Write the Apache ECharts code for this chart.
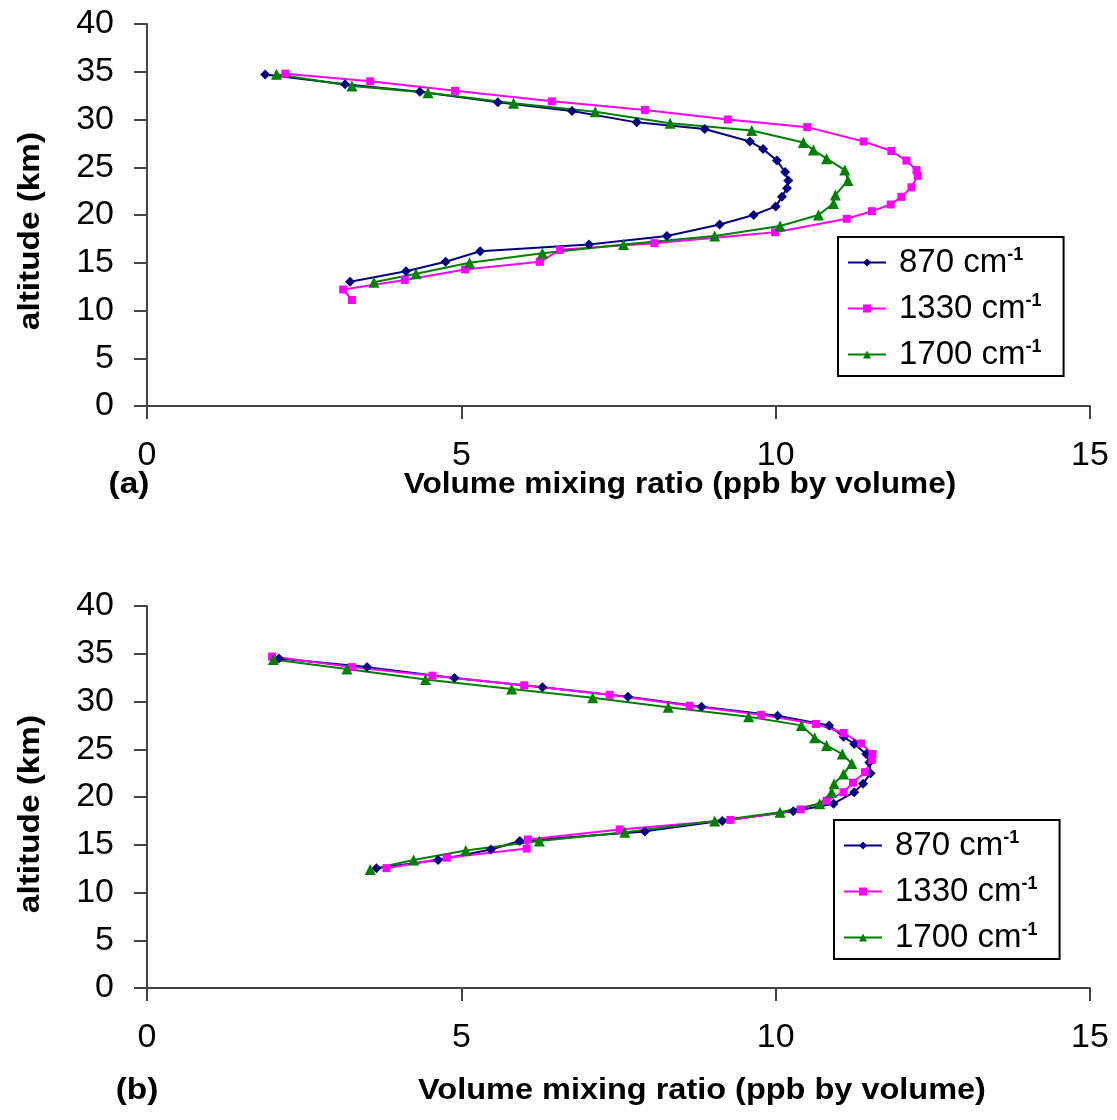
<!DOCTYPE html>
<html>
<head>
<meta charset="utf-8">
<script src="https://cdn.jsdelivr.net/npm/echarts@6/dist/echarts.min.js"></script>
<style>
html, body { margin: 0; padding: 0; background: #fff; }
#chart { width: 1117px; height: 1120px; }
</style>
</head>
<body>
<div id="chart"></div>
<script>
// series names (wavenumber, cm-1)
const seriesNames = ['870', '1330', '1700']
const colors = ['#000080', '#FF00FF', '#008000']
const symbols = ['diamond', 'rect', 'triangle']

// panel (a): [vmr ppb, altitude km]
const a870 = [[1.88, 34.7], [3.15, 33.7], [4.34, 32.9], [5.58, 31.8], [6.76, 30.9], [7.79, 29.7], [8.87, 29.0], [9.59, 27.7], [9.80, 26.9], [10.02, 25.7], [10.15, 24.5], [10.20, 23.6], [10.18, 22.8], [10.10, 21.9], [10.0, 20.9], [9.65, 20.0], [9.11, 19.0], [8.27, 17.8], [7.03, 16.9], [5.30, 16.2], [4.75, 15.1], [4.12, 14.1], [3.23, 13.0]]
const a1330 = [[2.20, 34.8], [3.55, 34.0], [4.90, 33.0], [6.44, 31.9], [7.92, 31.0], [9.24, 30.0], [10.50, 29.2], [11.40, 27.7], [11.84, 26.7], [12.08, 25.7], [12.24, 24.7], [12.26, 24.1], [12.16, 22.9], [12.0, 21.9], [11.83, 21.1], [11.53, 20.4], [11.13, 19.6], [9.99, 18.2], [8.07, 17.05], [6.57, 16.35], [6.25, 15.1], [5.06, 14.3], [4.10, 13.2], [3.12, 12.2], [3.26, 11.1]]
const a1700 = [[2.06, 34.75], [3.26, 33.5], [4.47, 32.8], [5.83, 31.7], [7.13, 30.8], [8.32, 29.6], [9.62, 28.85], [10.44, 27.6], [10.60, 26.8], [10.81, 25.9], [11.10, 24.7], [11.15, 23.6], [10.95, 22.1], [10.92, 21.2], [10.68, 20.0], [10.07, 18.85], [9.03, 17.8], [7.58, 16.9], [6.29, 16.0], [5.13, 15.0], [4.28, 13.85], [3.61, 12.95]]

// panel (b)
const b870 = [[2.10, 34.5], [3.50, 33.6], [4.89, 32.45], [6.29, 31.5], [7.65, 30.5], [8.82, 29.45], [10.03, 28.5], [10.85, 27.5], [11.08, 26.3], [11.25, 25.55], [11.44, 24.5], [11.49, 23.6], [11.51, 22.5], [11.39, 21.4], [11.25, 20.5], [10.92, 19.3], [10.28, 18.5], [9.15, 17.5], [7.92, 16.4], [5.93, 15.4], [5.47, 14.5], [4.63, 13.4], [3.65, 12.55]]
const b1330 = [[1.99, 34.7], [3.26, 33.6], [4.54, 32.7], [6.0, 31.7], [7.36, 30.7], [8.63, 29.55], [9.77, 28.6], [10.64, 27.65], [11.08, 26.7], [11.36, 25.6], [11.54, 24.5], [11.53, 23.9], [11.42, 22.6], [11.23, 21.5], [11.08, 20.5], [10.81, 19.6], [10.40, 18.7], [9.28, 17.6], [7.52, 16.6], [6.06, 15.55], [6.04, 14.6], [4.77, 13.65], [3.81, 12.55]]
const b1700 = [[2.01, 34.4], [3.18, 33.4], [4.43, 32.3], [5.80, 31.3], [7.09, 30.4], [8.29, 29.4], [9.57, 28.4], [10.41, 27.5], [10.62, 26.2], [10.81, 25.4], [11.06, 24.5], [11.21, 23.5], [11.08, 22.4], [10.93, 21.4], [10.89, 20.5], [10.70, 19.3], [10.07, 18.4], [9.03, 17.5], [7.60, 16.3], [6.24, 15.4], [5.07, 14.4], [4.24, 13.4], [3.55, 12.4]]

const xTicks = { min: 0, max: 15, interval: 5 }
const yTicks = { min: 0, max: 40, interval: 5 }

const chartDom = document.getElementById('chart')
const chartInstance = echarts.init(chartDom)

const fontFam = '"Liberation Sans", Arial, sans-serif'
const axisColor = '#444'

// 坐标轴公共样式
function makeXAxis(gridIndex) {
	return {
		type: 'value',
		gridIndex: gridIndex,
		min: xTicks.min,
		max: xTicks.max,
		interval: xTicks.interval,
		axisLine: { show: true, lineStyle: { color: axisColor, width: 2 } },
		axisTick: { show: true, inside: false, length: 13, lineStyle: { color: axisColor, width: 2 } },
		splitLine: { show: false },
		axisLabel: { color: '#000', fontSize: 34, fontFamily: fontFam, margin: 33 },
	}
}
function makeYAxis(gridIndex) {
	return {
		type: 'value',
		gridIndex: gridIndex,
		min: yTicks.min,
		max: yTicks.max,
		interval: yTicks.interval,
		axisLine: { show: true, lineStyle: { color: axisColor, width: 2 } },
		axisTick: { show: true, inside: false, length: 13, lineStyle: { color: axisColor, width: 2 } },
		splitLine: { show: false },
		axisLabel: { color: '#000', fontSize: 34, fontFamily: fontFam, margin: 33 },
	}
}

function makeSeries(data, idx, gridIndex) {
	return {
		type: 'line',
		name: seriesNames[idx],
		xAxisIndex: gridIndex,
		yAxisIndex: gridIndex,
		data: data,
		symbol: symbols[idx],
		symbolSize: idx === 2 ? 11 : (idx === 0 ? 10 : 8),
		lineStyle: { color: colors[idx], width: 2 },
		itemStyle: { color: colors[idx] },
		animation: false,
	}
}

function makeLegend(left, top) {
	return {
		orient: 'vertical',
		left: left,
		top: top,
		itemWidth: 38,
		itemHeight: 10,
		itemGap: 13,
		padding: [9, 22, 5, 9],
		borderColor: '#000',
		borderWidth: 2,
		data: seriesNames,
		formatter: (name) => '{n|' + name + ' cm}{s|-1}',
		textStyle: {
			color: '#000',
			fontFamily: fontFam,
			rich: {
				n: { fontSize: 33, fontFamily: fontFam, color: '#000', padding: [0, 0, 0, 8] },
				s: { fontSize: 18, fontFamily: fontFam, color: '#000', verticalAlign: 'top', fontWeight: 'bold' },
			},
		},
	}
}

function axisName(text, x, y, rotate, scaleX) {
	return {
		type: 'text',
		x: x,
		y: y,
		rotation: rotate ? Math.PI / 2 : 0,
		scaleX: scaleX,
		style: { text: text, font: 'bold 29px ' + fontFam, fill: '#000', align: 'center', verticalAlign: 'middle' },
	}
}

const option = {
	backgroundColor: '#fff',
	animation: false,
	grid: [
		{ left: 147, top: 24, width: 943, height: 382 },
		{ left: 147, top: 606, width: 943, height: 382 },
	],
	xAxis: [makeXAxis(0), makeXAxis(1)],
	yAxis: [makeYAxis(0), makeYAxis(1)],
	legend: [makeLegend(838, 237), makeLegend(834, 820)],
	series: [
		makeSeries(a870, 0, 0),
		makeSeries(a1330, 1, 0),
		makeSeries(a1700, 2, 0),
		makeSeries(b870, 0, 1),
		makeSeries(b1330, 1, 1),
		makeSeries(b1700, 2, 1),
	],
	graphic: [
		axisName('altitude (km)', 31, 231, true, 1.15),
		axisName('altitude (km)', 31, 814, true, 1.15),
		axisName('Volume mixing ratio (ppb by volume)', 680, 485, false, 1.09),
		axisName('Volume mixing ratio (ppb by volume)', 702, 1091, false, 1.12),
		axisName('(a)', 129, 485, false, 1.15),
		axisName('(b)', 137, 1091, false, 1.15),
	],
}
chartInstance.setOption(option)
</script>
</body>
</html>
